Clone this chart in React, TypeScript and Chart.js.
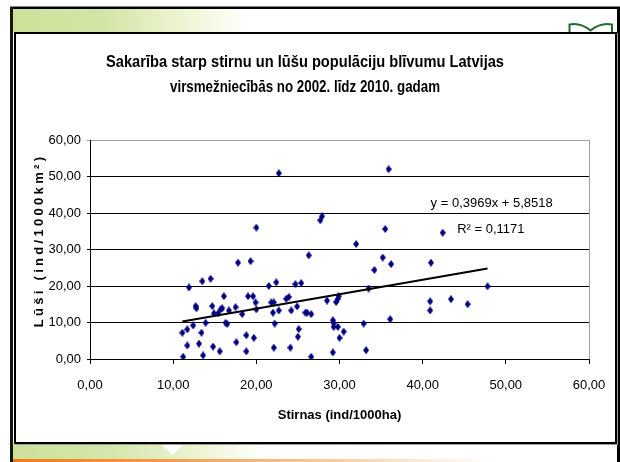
import React, { useEffect, useRef } from 'react';
import { Chart, registerables } from 'chart.js';

Chart.register(...registerables);

const titleLines = [
  'Sakarība starp stirnu un lūšu populāciju blīvumu Latvijas',
  'virsmežniecībās no 2002. līdz 2010. gadam',
];
const xAxisTitle = 'Stirnas (ind/1000ha)';
const yAxisTitle = 'Lūši (ind/1000km²)';
const xTickLabels = ['0,00', '10,00', '20,00', '30,00', '40,00', '50,00', '60,00'];
const yTickLabels = ['0,00', '10,00', '20,00', '30,00', '40,00', '50,00', '60,00'];

// Stirnas (roe deer) density per point
const roeDeer = [
  22.7, 20.0, 17.8, 19.3, 11.9, 13.5, 14.5, 16.1, 19.0, 19.6,
  19.9, 21.5, 22.4, 12.7, 12.8, 14.7, 14.9, 15.4, 15.7, 15.9,
  16.7, 17.5, 18.3, 20.0, 21.8, 22.1, 22.0, 22.7, 12.4, 11.7,
  11.1, 13.4, 13.9, 16.3, 16.5, 22.2, 11.7, 13.1, 14.8, 15.6,
  17.6, 18.8, 19.7, 18.8, 22.1, 11.2, 13.6,
  35.9, 27.9, 27.7, 35.5, 42.4, 32.0, 26.3, 35.2, 36.2, 41.0,
  34.2, 24.7, 25.4, 33.5, 23.6, 23.9, 24.9, 28.5, 29.9, 29.8,
  29.6, 24.2, 25.9, 26.1, 26.6, 25.1, 25.0, 29.2, 29.3, 29.3,
  29.8, 30.5, 30.0, 32.9, 36.1, 24.1, 26.6, 29.2, 33.2, 40.9,
  40.9, 43.4, 45.4, 47.8,
];
// Lūši (lynx) density per point
const lynx = [
  50.9, 36.0, 26.4, 26.8, 19.6, 21.3, 22.0, 17.2, 17.2, 17.2,
  15.5, 20.0, 21.0, 14.5, 13.9, 14.5, 12.5, 12.5, 13.6, 13.9,
  13.3, 14.2, 12.3, 13.6, 15.5, 15.5, 12.7, 13.3, 9.2, 8.1,
  7.2, 7.2, 9.9, 9.9, 9.6, 9.7, 3.7, 4.2, 3.4, 2.1,
  4.6, 6.5, 5.8, 2.1, 3.1, 0.6, 1.0,
  52.0, 39.1, 38.0, 35.6, 34.6, 31.5, 28.4, 27.8, 26.0, 26.4,
  24.4, 20.5, 20.8, 19.3, 16.5, 17.0, 14.4, 16.0, 17.2, 16.5,
  15.6, 13.3, 12.7, 12.7, 12.3, 8.2, 6.1, 10.6, 9.8, 8.8,
  8.8, 7.5, 5.8, 9.7, 10.9, 3.1, 0.6, 1.8, 2.4, 15.8,
  13.3, 16.4, 15.0, 19.9,
];

// Trend line as printed on the chart: y = 0,3969x + 5,8518
const trendSlope = 0.3969;
const trendIntercept = 5.8518;
const trendX = [11.1, 47.8];
const equationText = 'y = 0,3969x + 5,8518';
const r2Text = 'R² = 0,1171';
const equationAnchor = [48.3, 42.7];
const r2Anchor = [48.2, 35.6];

const FONT = '"Liberation Sans", Arial, sans-serif';

function makeDiamond(): HTMLCanvasElement {
  const c = document.createElement('canvas');
  c.width = 6;
  c.height = 8;
  const g = c.getContext('2d')!;
  g.fillStyle = '#000080';
  g.beginPath();
  g.moveTo(3, 0);
  g.lineTo(6, 4);
  g.lineTo(3, 8);
  g.lineTo(0, 4);
  g.closePath();
  g.fill();
  return c;
}

export default function App() {
  const ref = useRef<HTMLCanvasElement | null>(null);

  useEffect(() => {
    const canvas = ref.current!;
    const points = roeDeer.map((x, i) => ({ x, y: lynx[i] }));
    const trend = trendX.map((x) => ({ x, y: trendSlope * x + trendIntercept }));

    const titleCenterX = 290;
    const titleLineY = [30, 55];
    const titleWidths = [398, 270];

    const extras = {
      id: 'extras',
      beforeDatasetsDraw(chart: any) {
        const { ctx, chartArea } = chart;
        ctx.save();
        ctx.strokeStyle = '#a0a0a0';
        ctx.lineWidth = 1;
        ctx.beginPath();
        ctx.moveTo(Math.round(chartArea.right) + 0.5, chartArea.top);
        ctx.lineTo(Math.round(chartArea.right) + 0.5, chartArea.bottom);
        ctx.stroke();
        ctx.restore();
      },
      afterDraw(chart: any) {
        const { ctx, chartArea, scales } = chart;
        ctx.save();
        ctx.fillStyle = '#000';
        ctx.textAlign = 'center';
        ctx.textBaseline = 'middle';

        // title (condensed like the original)
        ctx.font = `bold 16px ${FONT}`;
        titleLines.forEach((line, i) => {
          const w = ctx.measureText(line).width;
          const sx = Math.min(1, titleWidths[i] / w);
          ctx.save();
          ctx.translate(titleCenterX, titleLineY[i]);
          ctx.scale(sx, 1);
          ctx.fillText(line, 0, 0);
          ctx.restore();
        });

        ctx.font = `13px ${FONT}`;
        ctx.fillText(
          equationText,
          scales.x.getPixelForValue(equationAnchor[0]),
          scales.y.getPixelForValue(equationAnchor[1])
        );
        ctx.fillText(
          r2Text,
          scales.x.getPixelForValue(r2Anchor[0]),
          scales.y.getPixelForValue(r2Anchor[1])
        );
        // y axis title, letter-spaced
        ctx.translate(chartArea.left - 51, (chartArea.top + chartArea.bottom) / 2 - 9);
        ctx.rotate(-Math.PI / 2);
        ctx.font = `bold 13px ${FONT}`;
        (ctx as any).letterSpacing = '3.3px';
        ctx.fillText(yAxisTitle, 0, 0);
        ctx.restore();
      },
    };

    const chart = new Chart(canvas, {
      type: 'scatter',
      data: {
        datasets: [
          {
            type: 'line',
            data: trend,
            borderColor: '#000',
            borderWidth: 2,
            pointRadius: 0,
            fill: false,
            tension: 0,
            order: 0,
          } as any,
          {
            type: 'scatter',
            data: points,
            pointStyle: makeDiamond(),
            pointRadius: 4,
            backgroundColor: '#000080',
            borderColor: '#000080',
            order: 1,
          } as any,
        ],
      },
      options: {
        responsive: false,
        maintainAspectRatio: false,
        animation: false,
        layout: { padding: { left: 0, right: 27, top: 107, bottom: 0 } },
        plugins: {
          legend: { display: false },
          tooltip: { enabled: false },
          title: { display: false },
        },
        scales: {
          x: {
            type: 'linear',
            min: 0,
            max: 60,
            ticks: {
              stepSize: 10,
              color: '#000',
              font: { family: FONT, size: 13 },
              padding: 14,
              maxRotation: 0,
              callback: (_v: any, i: number) => xTickLabels[i],
            },
            grid: { drawOnChartArea: false, drawTicks: true, tickLength: 5, color: '#000' },
            border: { display: true, color: '#000', width: 1 },
            title: {
              display: true,
              text: xAxisTitle,
              color: '#000',
              font: { family: FONT, size: 13, weight: 'bold' },
              padding: { top: 0, bottom: 20 },
            },
            afterFit: (s: any) => {
              s.height = 84;
              s.paddingLeft = 0;
              s.paddingRight = 0;
            },
          },
          y: {
            type: 'linear',
            min: 0,
            max: 60,
            ticks: {
              stepSize: 10,
              color: '#000',
              font: { family: FONT, size: 13 },
              padding: 6,
              callback: (_v: any, i: number) => yTickLabels[i],
            },
            grid: {
              drawTicks: true,
              tickLength: 3,
              color: (c: any) => (c.tick && c.tick.value === 60 ? '#a0a0a0' : '#000'),
            },
            border: { display: true, color: '#000', width: 1 },
            title: { display: false },
            afterFit: (s: any) => {
              s.width = 75;
            },
          },
        },
      } as any,
      plugins: [extras],
    });
    return () => chart.destroy();
  }, []);

  return (
    <div
      style={{
        position: 'absolute',
        left: 0,
        top: 0,
        width: 620,
        height: 462,
        background: '#fff',
        overflow: 'hidden',
      }}
    >
      {/* top green band */}
      <div
        style={{
          position: 'absolute',
          left: 13,
          top: 9,
          width: 605,
          height: 24,
          background:
            'linear-gradient(to right, #cde19a 0px, #d3e5a6 90px, #eef5d3 170px, #ffffff 235px)',
        }}
      />
      {/* bottom green band */}
      <div
        style={{
          position: 'absolute',
          left: 13,
          top: 443,
          width: 605,
          height: 16,
          background:
            'linear-gradient(to right, #cde19a 0px, #d6e7ab 100px, #eef5d5 190px, #ffffff 250px)',
        }}
      />
      {/* notch */}
      <div
        style={{
          position: 'absolute',
          left: 160,
          top: 443,
          width: 25,
          height: 12,
          background: '#fff',
          clipPath: 'polygon(0 0, 100% 0, 50% 100%)',
        }}
      />
      {/* orange bottom line */}
      <div
        style={{
          position: 'absolute',
          left: 13,
          top: 459,
          width: 605,
          height: 3,
          background:
            'linear-gradient(to right, #f07d12 0px, #f3994a 150px, #f8c594 300px, #fdeede 420px, #ffffff 480px)',
        }}
      />
      {/* frame lines */}
      <div style={{ position: 'absolute', left: 10, top: 6, width: 610, height: 1, background: '#8a8a8a' }} />
      <div style={{ position: 'absolute', left: 10, top: 7, width: 610, height: 2, background: '#000' }} />
      <div style={{ position: 'absolute', left: 10, top: 7, width: 3, height: 455, background: '#141a0c' }} />
      <div style={{ position: 'absolute', left: 617, top: 7, width: 3, height: 455, background: '#000' }} />
      {/* book icon */}
      <svg
        style={{ position: 'absolute', left: 560, top: 16, width: 60, height: 20 }}
        width={60}
        height={20}
      >
        <path
          d="M9.5 18 L9.5 8.5 Q20 6 30.5 14.5 Q41 6 52 8.5 L52 18"
          fill="none"
          stroke="#1f6b2e"
          strokeWidth={2}
        />
      </svg>
      {/* chart box */}
      <div
        style={{
          position: 'absolute',
          left: 14,
          top: 32,
          width: 603,
          height: 412,
          boxSizing: 'border-box',
          border: '2px solid #000',
          background: '#fff',
          boxShadow: '1px 1px 0 #9a9a9a',
        }}
      />
      <canvas
        ref={ref}
        width={601}
        height={410}
        style={{ position: 'absolute', left: 15, top: 33, width: 601, height: 410 }}
      />
    </div>
  );
}
